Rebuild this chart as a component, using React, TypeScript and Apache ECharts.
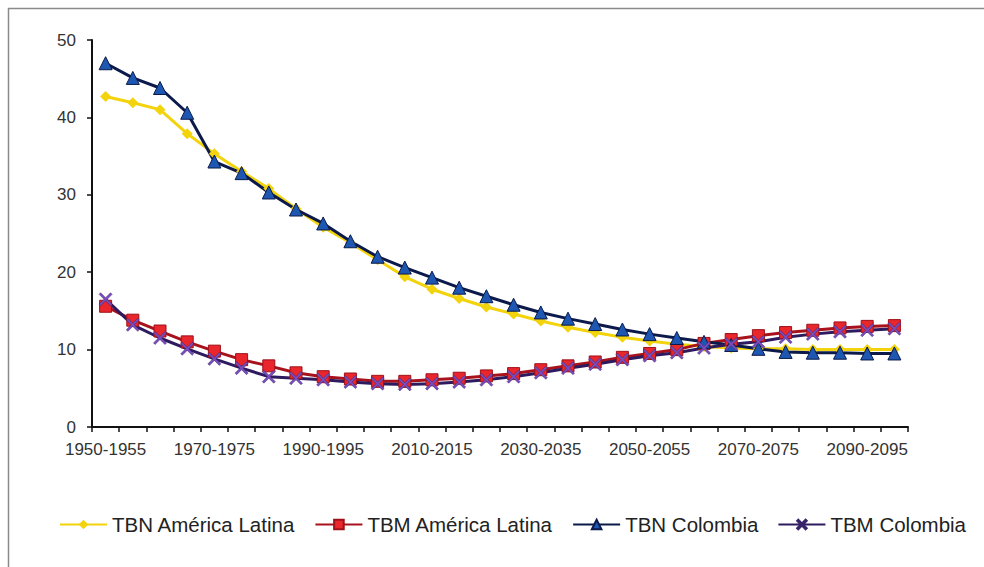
import React, { useEffect, useRef } from "react";
import * as echarts from "echarts";

const categories: string[] = [];
for (const start of [1950,1955,1960,1965,1970,1975,1980,1985,1990,1995,2000,2005,2010,2015,2020,2025,2030,2035,2040,2045,2050,2055,2060,2065,2070,2075,2080,2085,2090,2095]) {
  categories.push(`${start}-${start + 5}`);
}

const tbnAmericaLatina = [42.7, 41.9, 41.0, 37.9, 35.3, 33.0, 30.8, 28.2, 25.8, 23.8, 21.6, 19.4, 17.8, 16.6, 15.5, 14.6, 13.7, 12.9, 12.2, 11.6, 11.1, 10.7, 10.4, 10.2, 10.1, 10.1, 10.0, 10.0, 10.0, 10.0];
const tbmAmericaLatina = [15.6, 13.8, 12.4, 11.0, 9.8, 8.7, 7.9, 7.0, 6.5, 6.2, 5.9, 5.9, 6.1, 6.3, 6.6, 6.9, 7.4, 7.9, 8.4, 9.0, 9.5, 10.0, 10.8, 11.3, 11.8, 12.2, 12.5, 12.8, 13.0, 13.1];
const tbnColombia = [47.0, 45.1, 43.8, 40.6, 34.3, 32.8, 30.3, 28.1, 26.3, 24.0, 22.0, 20.6, 19.3, 18.0, 16.9, 15.8, 14.8, 14.0, 13.3, 12.6, 12.0, 11.5, 11.0, 10.6, 10.1, 9.7, 9.6, 9.6, 9.5, 9.5];
const tbmColombia = [16.5, 13.2, 11.5, 10.1, 8.8, 7.6, 6.5, 6.3, 6.1, 5.8, 5.6, 5.5, 5.6, 5.8, 6.1, 6.5, 7.0, 7.6, 8.1, 8.7, 9.2, 9.6, 10.2, 10.7, 11.0, 11.6, 12.0, 12.3, 12.5, 12.7];

const FONT = "'Liberation Sans', Arial, Helvetica, sans-serif";
const X_PATH = "path://M0,1.2 L1.2,0 L5,3.8 L8.8,0 L10,1.2 L6.2,5 L10,8.8 L8.8,10 L5,6.2 L1.2,10 L0,8.8 L3.8,5 Z";

export default function App() {
  const ref = useRef<HTMLDivElement>(null);
  useEffect(() => {
    if (!ref.current) return;
    const chart = echarts.init(ref.current, undefined, { renderer: "svg" });
    chart.setOption({
      animation: false,
      backgroundColor: "#ffffff",
      grid: { left: 92, right: 76, top: 40, bottom: 140, containLabel: false },
      legend: {
        left: 54,
        top: 509,
        itemWidth: 47,
        itemHeight: 12,
        itemGap: 19,
        textStyle: { fontFamily: FONT, fontSize: 20.5, color: "#222" },
        data: ["TBN América Latina", "TBM América Latina", "TBN Colombia", "TBM Colombia"],
      },
      xAxis: {
        type: "category",
        data: categories,
        boundaryGap: true,
        axisLine: { lineStyle: { color: "#111", width: 2 } },
        axisTick: { show: true, interval: 0, length: 5, lineStyle: { color: "#111", width: 1.5 } },
        axisLabel: { interval: 3, fontFamily: FONT, fontSize: 17, color: "#333", margin: 14 },
        splitLine: { show: false },
      },
      yAxis: {
        type: "value",
        min: 0,
        max: 50,
        interval: 10,
        axisLine: { show: true, lineStyle: { color: "#111", width: 2 } },
        axisTick: { show: true, length: 5, lineStyle: { color: "#111", width: 1.5 } },
        axisLabel: { fontFamily: FONT, fontSize: 17, color: "#333", margin: 16 },
        splitLine: { show: false },
      },
      series: [
        {
          name: "TBN América Latina",
          type: "line",
          data: tbnAmericaLatina,
          symbol: "diamond",
          symbolSize: 11,
          lineStyle: { color: "#F3D30C", width: 3 },
          itemStyle: { color: "#F3D30C" },
        },
        {
          name: "TBM América Latina",
          type: "line",
          data: tbmAmericaLatina,
          symbol: "rect",
          symbolSize: 12,
          lineStyle: { color: "#A8121C", width: 3 },
          itemStyle: { color: "#E8262C", borderColor: "#9E1018", borderWidth: 1 },
        },
        {
          name: "TBN Colombia",
          type: "line",
          data: tbnColombia,
          symbol: "triangle",
          symbolSize: 13,
          lineStyle: { color: "#0B1A4A", width: 3 },
          itemStyle: { color: "#1D57B2", borderColor: "#0B1A4A", borderWidth: 1 },
        },
        {
          name: "TBM Colombia",
          type: "line",
          data: tbmColombia,
          symbol: X_PATH,
          symbolSize: 13,
          lineStyle: { color: "#2E1A5E", width: 3 },
          itemStyle: { color: "#7A4CC0", borderColor: "#3A2468", borderWidth: 0.5 },
        },
      ],
      graphic: [
        { type: "line", shape: { x1: 8, y1: 8.5, x2: 984, y2: 8.5 }, style: { stroke: "#8a8a8a", lineWidth: 1.5 } },
        { type: "line", shape: { x1: 8.5, y1: 8, x2: 8.5, y2: 567 }, style: { stroke: "#8a8a8a", lineWidth: 1.5 } },
      ],
    });
    return () => chart.dispose();
  }, []);
  return <div ref={ref} style={{ position: "fixed", left: 0, top: 0, width: 984, height: 567 }} />;
}
